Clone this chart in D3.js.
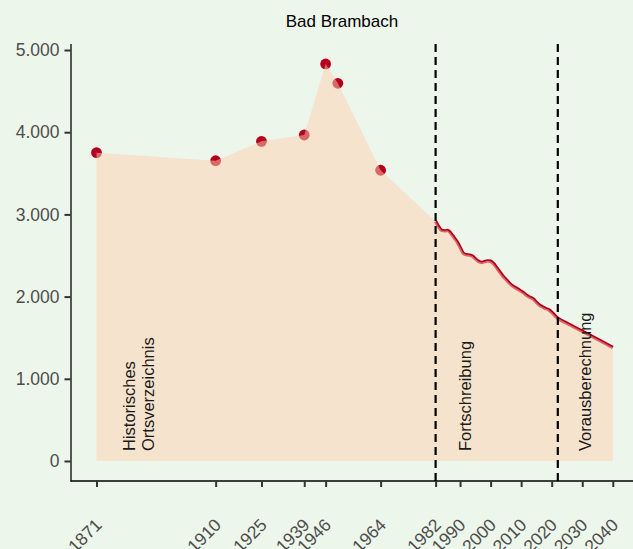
<!DOCTYPE html>
<html>
<head>
<meta charset="utf-8">
<script src="https://cdn.jsdelivr.net/npm/d3@7"></script>
<style>
  html, body { margin: 0; padding: 0; background: #edf6eb; }
  svg { display: block; font-family: "Liberation Sans", Arial, sans-serif; }
</style>
</head>
<body>
<div id="chart"></div>
<script>
// ---- data ----
const title = "Bad Brambach";
const histYears = [1871, 1910, 1925, 1939, 1946, 1950, 1964];
const histValues = [3751, 3653, 3889, 3966, 4830, 4595, 3537];

const fortYears = [1982, 1983, 1984, 1985, 1986, 1987, 1988, 1989, 1990, 1991,
  1992, 1993, 1994, 1995, 1996, 1997, 1998, 1999, 2000, 2001,
  2002, 2003, 2004, 2005, 2006, 2007, 2008, 2009, 2010, 2011,
  2012, 2013, 2014, 2015, 2016, 2017, 2018, 2019, 2020, 2021, 2022];
const fortValues = [2915, 2850, 2805, 2800, 2805, 2770, 2720, 2670, 2600, 2530,
  2510, 2505, 2495, 2460, 2430, 2415, 2425, 2435, 2430, 2400,
  2350, 2300, 2250, 2210, 2170, 2135, 2110, 2090, 2065, 2040,
  2010, 1990, 1970, 1930, 1895, 1875, 1855, 1840, 1810, 1770, 1736];

const projYears = [2022, 2025, 2030, 2035, 2040];
const projValues = [1736, 1675, 1578, 1480, 1380];

const xTicks = [1871, 1910, 1925, 1939, 1946, 1964, 1982, 1990, 2000, 2010, 2020, 2030, 2040];
const yTicks = [0, 1000, 2000, 3000, 4000, 5000];
const phaseLines = [1982, 2022];
const phaseLabels = [
  { lines: ["Historisches", "Ortsverzeichnis"], year: 1871 },
  { lines: ["Fortschreibung"], year: 1982 },
  { lines: ["Vorausberechnung"], year: 2022 }
];

// ---- layout ----
const W = 633, H = 549;
const svg = d3.select("#chart").append("svg").attr("width", W).attr("height", H);
svg.append("rect").attr("width", W).attr("height", H).attr("fill", "#edf6eb");

const x = d3.scaleLinear().domain([1871, 2040]).range([96.5, 612.8]);
const y = d3.scaleLinear().domain([0, 5000]).range([461, 50]);

const hist = histYears.map((yr, i) => ({ year: yr, value: histValues[i] }));
const fort = fortYears.map((yr, i) => ({ year: yr, value: fortValues[i] }));
const proj = projYears.map((yr, i) => ({ year: yr, value: projValues[i] }));
const all = hist.concat(fort, proj.slice(1));

const red = "#b4001f";

// line (under area)
const line = d3.line().x(d => x(d.year)).y(d => y(d.value)).curve(d3.curveMonotoneX);
svg.append("path").datum(fort.concat(proj.slice(1)))
  .attr("d", line).attr("fill", "none").attr("stroke", red).attr("stroke-width", 3.4)
  .attr("stroke-linejoin", "round");

// points (under area)
svg.append("g").selectAll("circle").data(hist).join("circle")
  .attr("cx", d => x(d.year)).attr("cy", d => y(d.value)).attr("r", 5.4)
  .attr("fill", red);

// area (semi-transparent, on top)
const area = d3.area().x(d => x(d.year)).y0(y(0)).y1(d => y(d.value));
svg.append("path").datum(all).attr("d", area)
  .attr("fill", "#fdd0af").attr("fill-opacity", 0.5);

// phase dashed lines
svg.append("g").selectAll("line").data(phaseLines).join("line")
  .attr("x1", d => x(d)).attr("x2", d => x(d))
  .attr("y1", 44).attr("y2", 481)
  .attr("stroke", "#000").attr("stroke-width", 2.2).attr("stroke-dasharray", "8,5");

// phase labels
const labelX = [[134.5, 154], [470.5], [590.5]];
const labelY = 451;
phaseLabels.forEach((p, i) => {
  p.lines.forEach((t, j) => {
    svg.append("text")
      .attr("transform", `translate(${labelX[i][j]},${labelY}) rotate(-90)`)
      .attr("font-size", 16.5).attr("fill", "#1a1a1a").text(t);
  });
});

// axes
const axisColor = "#333333";
svg.append("line").attr("x1", 71).attr("x2", 71).attr("y1", 44).attr("y2", 481.5)
  .attr("stroke", "#000").attr("stroke-width", 1.3);
svg.append("line").attr("x1", 70.5).attr("x2", W).attr("y1", 481).attr("y2", 481)
  .attr("stroke", "#000").attr("stroke-width", 1.3);

const yAxis = d3.axisLeft(y).tickValues(yTicks).tickSize(6).tickPadding(5)
  .tickFormat(d => d3.format(",")(d).replace(/,/g, "."));
const gy = svg.append("g").attr("transform", "translate(70.5,0)").call(yAxis);
gy.select(".domain").remove();
gy.selectAll(".tick line").attr("stroke", axisColor).attr("stroke-width", 2);
gy.selectAll(".tick text").attr("font-size", 17.5).attr("fill", "#4d4d4d")
  .attr("font-family", "Liberation Sans, Arial, sans-serif");

const xAxis = d3.axisBottom(x).tickValues(xTicks).tickSize(6).tickFormat(d3.format("d"));
const gx = svg.append("g").attr("transform", "translate(0,481)").call(xAxis);
gx.select(".domain").remove();
gx.selectAll(".tick line").attr("stroke", axisColor).attr("stroke-width", 2);
gx.selectAll(".tick text")
  .attr("font-size", 17.5).attr("fill", "#4d4d4d")
  .attr("font-family", "Liberation Sans, Arial, sans-serif")
  .attr("text-anchor", "end")
  .attr("x", 0).attr("y", 0).attr("dy", 0)
  .attr("transform", "translate(6,45) rotate(-45)");

// title
svg.append("text").attr("x", 342).attr("y", 27).attr("text-anchor", "middle")
  .attr("font-size", 17).attr("fill", "#000").text(title);
</script>
</body>
</html>
